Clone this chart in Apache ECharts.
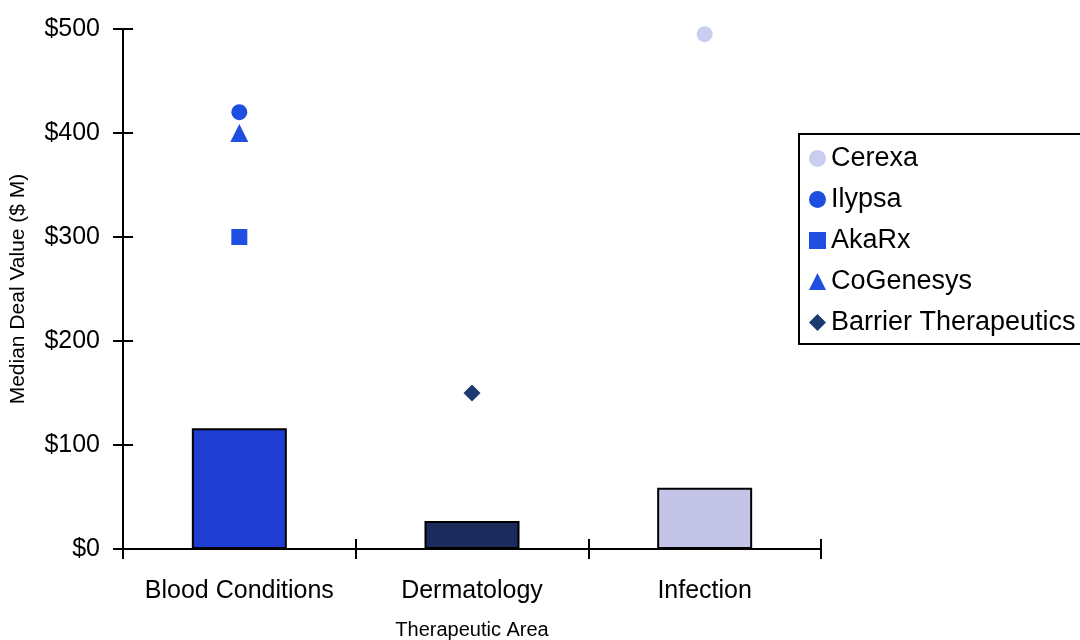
<!DOCTYPE html>
<html>
<head>
<meta charset="utf-8">
<script src="https://cdn.jsdelivr.net/npm/echarts@6/dist/echarts.min.js"></script>
<style>
  html, body { margin: 0; padding: 0; background: #ffffff; }
  #chart { width: 1080px; height: 640px; }
</style>
</head>
<body>
<div id="chart"></div>
<script>
// Therapeutic areas and their median deal values ($ M)
const categories = ['Blood Conditions', 'Dermatology', 'Infection'];
const medianDealValues = [116, 27, 59];

// Individual company deals ($ M) and the area each belongs to
const companies = ['Cerexa', 'Ilypsa', 'AkaRx', 'CoGenesys', 'Barrier Therapeutics'];
const companyAreas = ['Infection', 'Blood Conditions', 'Blood Conditions', 'Blood Conditions', 'Dermatology'];
const companyDealValues = [495, 420, 300, 400, 150];

// Value axis range
const yMin = 0, yMax = 500, yStep = 100;

// Styling
const FONT = '"Liberation Sans", Arial, sans-serif';
const barColors = ['#1e3dd2', '#1a2b5c', '#c3c4e8'];
const companySymbols = ['circle', 'circle', 'rect', 'triangle', 'diamond'];
const companySymbolSizes = [16, 16, 16, 18, 17];
const companyColors = ['#c9cdf0', '#1f4fe0', '#1f4fe0', '#1f4fe0', '#1d3a70'];

const chart = echarts.init(document.getElementById('chart'), null, { renderer: 'canvas' });

const scatterSeries = companies.map((name, i) => ({
  name: name,
  type: 'scatter',
  xAxisIndex: 0,
  yAxisIndex: 0,
  symbol: companySymbols[i],
  symbolSize: companySymbolSizes[i],
  itemStyle: { color: companyColors[i], opacity: 1 },
  z: 5,
  data: [[companyAreas[i], companyDealValues[i]]]
}));

chart.setOption({
  animation: false,
  backgroundColor: '#ffffff',
  textStyle: { fontFamily: FONT, color: '#000' },
  grid: { left: 123, right: 259, top: 29, bottom: 91, containLabel: false, outerBoundsMode: 'none' },
  legend: {
    orient: 'vertical',
    left: 799,
    top: 134,
    data: companies,
    itemWidth: 17,
    itemHeight: 17,
    itemGap: 14,
    padding: [11, 60, 8, 10],
    borderColor: '#000',
    borderWidth: 2,
    backgroundColor: '#fff',
    selectedMode: false,
    textStyle: { fontFamily: FONT, fontSize: 27, color: '#000', lineHeight: 27 }
  },
  xAxis: [
    {
      type: 'category',
      data: categories,
      boundaryGap: true,
      position: 'bottom',
      name: 'Therapeutic Area',
      nameLocation: 'middle',
      nameGap: 71,
      nameTextStyle: { fontFamily: FONT, fontSize: 20, color: '#000' },
      axisLine: { show: true, lineStyle: { color: '#000', width: 2 } },
      axisTick: { show: true, inside: false, length: 10, alignWithLabel: false, lineStyle: { color: '#000', width: 2 } },
      axisLabel: { show: true, interval: 0, hideOverlap: false, margin: 30, fontFamily: FONT, fontSize: 25, color: '#000' },
      splitLine: { show: false }
    },
    {
      type: 'category',
      data: categories,
      boundaryGap: true,
      position: 'bottom',
      axisLine: { show: false },
      axisTick: { show: true, inside: true, length: 10, lineStyle: { color: '#000', width: 2 } },
      axisLabel: { show: false },
      splitLine: { show: false }
    }
  ],
  yAxis: [
    {
      type: 'value',
      min: yMin,
      max: yMax,
      interval: yStep,
      position: 'left',
      name: 'Median Deal Value ($ M)',
      nameLocation: 'middle',
      nameGap: 94,
      nameRotate: 90,
      nameTextStyle: { fontFamily: FONT, fontSize: 21, color: '#000' },
      axisLine: { show: true, lineStyle: { color: '#000', width: 2 } },
      axisTick: { show: true, inside: false, length: 10, lineStyle: { color: '#000', width: 2 } },
      axisLabel: {
        show: true,
        margin: 23,
        fontFamily: FONT,
        fontSize: 25,
        color: '#000',
        formatter: v => '$' + v
      },
      splitLine: { show: false }
    },
    {
      type: 'value',
      min: yMin,
      max: yMax,
      interval: yStep,
      position: 'left',
      axisLine: { show: false },
      axisTick: { show: true, inside: true, length: 10, lineStyle: { color: '#000', width: 2 } },
      axisLabel: { show: false },
      splitLine: { show: false }
    }
  ],
  series: [
    {
      name: 'Median Deal Value',
      type: 'bar',
      xAxisIndex: 0,
      yAxisIndex: 0,
      barWidth: 95,
      z: 2,
      data: medianDealValues.map((v, i) => ({
        value: v,
        itemStyle: { color: barColors[i], borderColor: '#000', borderWidth: 2 }
      }))
    }
  ].concat(scatterSeries)
});
</script>
</body>
</html>
